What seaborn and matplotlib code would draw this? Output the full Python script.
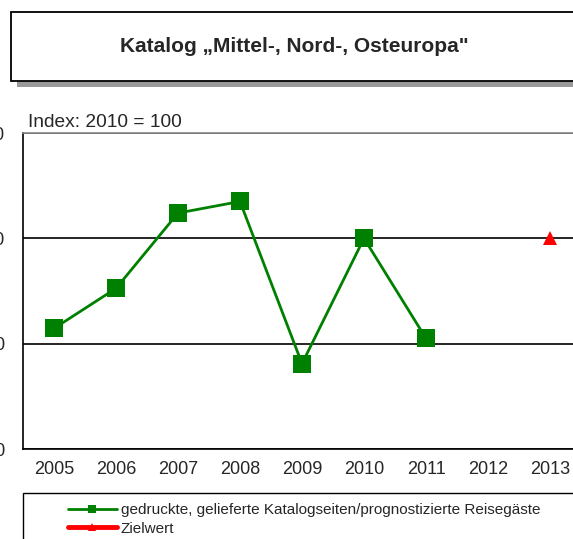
import numpy as np
import pandas as pd
import seaborn as sns
import matplotlib.pyplot as plt
from matplotlib.patches import Rectangle

# data (index: 2010 = 100)
years = [2005, 2006, 2007, 2008, 2009, 2010, 2011, 2012, 2013]
katalog_years = [2005, 2006, 2007, 2008, 2009, 2010, 2011]
katalog_values = [82.9, 90.5, 104.8, 107.0, 76.2, 100.0, 81.0]
ziel_years = [2013]
ziel_values = [100.0]
y_ticks = [60, 80, 100, 120]

label_katalog = "gedruckte, gelieferte Katalogseiten/prognostizierte Reisegäste"
label_ziel = "Zielwert"

sns.set_style("white")
plt.rcParams["font.family"] = ["Liberation Sans", "DejaVu Sans"]

W, H = 573, 539
fig = plt.figure(figsize=(W / 100, H / 100), dpi=100)

# title box with shadow
fig.patches.append(Rectangle((17 / W, 1 - 87 / H), 1, 70 / H, transform=fig.transFigure,
                             facecolor="#999999", edgecolor="none", zorder=0))
fig.patches.append(Rectangle((11 / W, 1 - 81 / H), 1, 69 / H, transform=fig.transFigure,
                             facecolor="white", edgecolor="black", linewidth=1.3, zorder=1))
fig.text(294 / W, 1 - 47 / H, "Katalog \u201eMittel-, Nord-, Osteuropa\"", ha="center", va="center",
         fontsize=15, fontweight="bold", zorder=2)

left, right, top, bottom = 23, 581, 133, 449
ax = fig.add_axes([left / W, 1 - bottom / H, (right - left) / W, (bottom - top) / H])

df_k = pd.DataFrame({"Jahr": katalog_years, "Index": katalog_values})
df_z = pd.DataFrame({"Jahr": ziel_years, "Index": ziel_values})

sns.lineplot(data=df_k, x="Jahr", y="Index", ax=ax, color="#008000", linewidth=2.0,
             marker="s", markersize=13, markeredgewidth=0, label=label_katalog)
sns.lineplot(data=df_z, x="Jahr", y="Index", ax=ax, color="#ff0000", linewidth=3.5,
             marker="^", markersize=9.5, markeredgewidth=0, label=label_ziel)

ax.set_xlim(years[0] - 0.5, years[-1] + 0.5)
ax.set_ylim(y_ticks[0], y_ticks[-1])
ax.set_xticks(years)
ax.set_xticklabels([str(y) for y in years])
ax.set_xticks(np.arange(years[0] - 0.5, years[-1] + 1, 1), minor=True)
ax.set_yticks(y_ticks)
ax.set_xlabel("")
ax.set_ylabel("")
ax.tick_params(axis="x", which="major", length=0, labelsize=13, pad=9)
ax.tick_params(axis="x", which="minor", length=5, width=1, direction="out", color="black")
ax.tick_params(axis="y", length=5, width=1, direction="out", color="black", labelsize=13, pad=8)
ax.yaxis.grid(True, color="black", linewidth=1.2)
ax.set_axisbelow(True)
for side in ["left", "bottom"]:
    ax.spines[side].set_color("black")
    ax.spines[side].set_linewidth(1.2)
ax.spines["top"].set_color("#888888")
ax.spines["top"].set_linewidth(1.2)
ax.spines["right"].set_visible(False)

fig.text(28 / W, 1 - 127 / H, "Index: 2010 = 100", va="baseline", fontsize=13.8)

# legend below the chart
handles, labels = ax.get_legend_handles_labels()
ax.get_legend().remove()
fig.patches.append(Rectangle((23 / W, -0.1), 1, 0.1 + (H - 493) / H, transform=fig.transFigure,
                             facecolor="white", edgecolor="black", linewidth=1))
leg = fig.legend(handles, labels, loc="upper left", bbox_to_anchor=(68 / W, 1 - 503 / H),
                 frameon=False, fontsize=11, borderpad=0, borderaxespad=0,
                 handlelength=3.2, handletextpad=0.25, labelspacing=0.3)
for h in leg.legend_handles:
    h.set_markersize(6)

fig.savefig("out.png", dpi=100)
